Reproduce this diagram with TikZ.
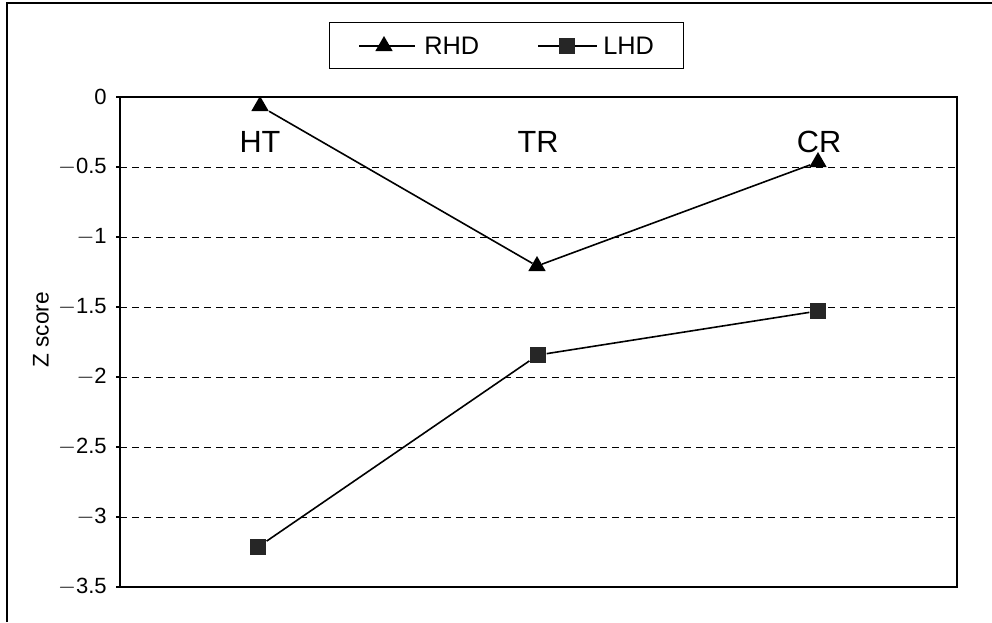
\documentclass[tikz,border=0pt]{standalone}
\usepackage{fontspec}
\setmainfont{Liberation Sans}
\usetikzlibrary{shapes.geometric, positioning}
\tikzset{
frame/.style={line width=0.9pt}, % outer frame and plot box
grid/.style={dash pattern=on 5pt off 4pt, line width=0.6pt}, % dashed value lines
serie/.style={line width=1.2pt}, % lines between the markers
rhd/.style={regular polygon, regular polygon sides=3, fill=black, inner sep=0pt, minimum size=15pt}, % triangle marker
lhd/.style={rectangle, fill=black!85, inner sep=0pt, minimum size=12.5pt}, % square marker
cat/.style={font=\fontsize{23}{25}\selectfont}, % HT, TR, CR
tick/.style={font=\fontsize{16.5}{18}\selectfont, anchor=east},
}

\begin{document}
\begin{tikzpicture}[x=0.75pt, y=-0.75pt]
  \useasboundingbox (0,0) rectangle (992,622);
  % frame of the figure (only top and left edge are on the scan)
  \draw[frame] (7,622) -- (7,3) -- (992,3);

  % legend
  \node[draw, frame, minimum width=266pt, minimum height=34pt] (legend) at (506.5,45.5) {};
  \coordinate (la) at (359,46);
  \coordinate (lb) at (415,46);
  \coordinate (lc) at (538,46);
  \coordinate (ld) at (597,46);
  \draw[serie] (la) -- (lb);
  \draw[serie] (lc) -- (ld);
  \node[rhd] (lr) at (384,46) {};
  \node[lhd] (ll) at (567,46) {};
  \node[anchor=west, font=\fontsize{19}{21}\selectfont, inner sep=0pt] (lrt) at (424,46) {RHD};
  \node[anchor=west, font=\fontsize{19}{21}\selectfont, inner sep=0pt] (llt) at (603,46) {LHD};

  % value lines and axis
  \foreach \v in {0.5,1,...,3}
    \draw[grid] (120,{97+140*\v}) -- (957,{97+140*\v});
  \draw[frame] (120,97) rectangle (957,587);
  \foreach \v/\t in {0/0, 0.5/$-$0.5, 1/$-$1, 1.5/$-$1.5, 2/$-$2, 2.5/$-$2.5, 3/$-$3, 3.5/$-$3.5} {
    \draw[frame] (116,{97+140*\v}) -- (120,{97+140*\v});
    \node[tick, inner sep=0pt] at (107,{97+140*\v}) {\t};
  }
  \node[rotate=90, font=\fontsize{17}{19}\selectfont] (zlabel) at (41,330) {Z score};

  % categories
  \node[cat] (ht) at (260,142) {HT};
  \node[cat] (tr) at (538,142) {TR};
  \node[cat] (cr) at (819,142) {CR};

  % RHD
  \node[rhd] (r1) at (260,106) {};
  \node[rhd] (r2) at (537,266) {};
  \node[rhd] (r3) at (818,162) {};
  \draw[serie] (r1) -- (r2) -- (r3);

  % LHD
  \node[lhd] (l1) at (258,547) {};
  \node[lhd] (l2) at (538,355) {};
  \node[lhd] (l3) at (818,311) {};
  \draw[serie] (l1) -- (l2) -- (l3);

\end{tikzpicture}
\end{document}
